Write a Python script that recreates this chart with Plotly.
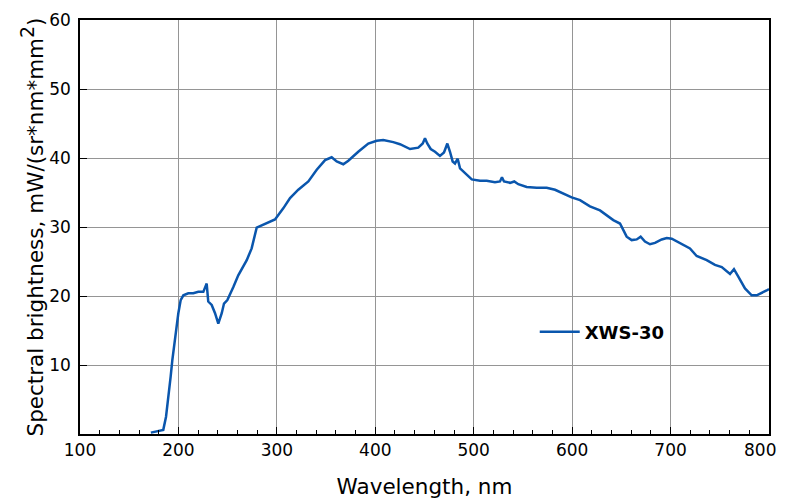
import plotly.graph_objects as go

wavelength = [172, 184.6, 187.4, 188.7, 190.7, 192.1, 193.8, 195.5, 197.5, 199.9, 202.3, 205, 210, 215.1, 220.2, 225.3,
              228.7, 230.3, 233.8, 237.2, 240.5, 244, 246.3, 249.7, 255.8, 260.8, 269.4, 274.4, 279.5, 289.7, 298.1,
              306.5, 313.4, 321.8, 332, 340.5, 349, 355.7, 360.8, 367.5, 372.6, 382.7, 392.9, 401.4, 408.1, 418.3,
              425.1, 435.3, 443.7, 448.2, 450.5, 452.8, 456.3, 460.7, 465.7, 469.8, 473.2, 475.9, 478.6, 481, 483.7,
              486.1, 491.1, 498, 506.4, 513.2, 521.6, 526.7, 528.7, 530.8, 536.9, 541.2, 545.3, 553.8, 564, 574.1,
              582.6, 591, 599.5, 608, 618.1, 628.3, 635.1, 641.8, 648.6, 651.3, 655.4, 660.5, 665.6, 669.6, 674,
              679.1, 684.2, 691, 696.1, 701.2, 709.6, 716.4, 719.7, 726.5, 736.7, 745.1, 752, 760.4, 764.4, 768.8,
              775.6, 782.4, 787.5, 797.6, 800]
brightness = [0.2, 0.6, 2.5, 4.0, 5.9, 8.3, 10.7, 12.7, 14.8, 17.5, 19.4, 20.1, 20.4, 20.4, 20.6, 20.6,
              21.8, 19.2, 18.7, 17.5, 16.0, 17.5, 18.9, 19.4, 21.3, 23.0, 25.2, 26.9, 29.9, 30.5, 31.1,
              32.7, 34.2, 35.4, 36.6, 38.3, 39.7, 40.1, 39.5, 39.1, 39.6, 40.9, 42.1, 42.5, 42.6, 42.3,
              42.0, 41.3, 41.5, 42.1, 42.85, 42.1, 41.3, 40.9, 40.3, 40.8, 42.1, 40.9, 39.5, 39.2, 39.9,
              38.5, 37.8, 36.9, 36.7, 36.7, 36.5, 36.6, 37.2, 36.6, 36.4, 36.6, 36.2, 35.8, 35.7, 35.7,
              35.4, 34.8, 34.3, 33.9, 33.0, 32.4, 31.7, 31.0, 30.5, 29.8, 28.6, 28.1, 28.2, 28.6, 27.9,
              27.5, 27.7, 28.2, 28.4, 28.3, 27.7, 27.1, 26.9, 25.8, 25.2, 24.5, 24.2, 23.2, 23.9, 22.8,
              21.1, 20.1, 20.1, 20.8, 21.0]
series_name = "XWS-30"
x_ticks = [100, 200, 300, 400, 500, 600, 700, 800]
x_tick_labels = ["100", "200", "300", "400", "500", "600", "700", "800"]
y_ticks = [10, 20, 30, 40, 50, 60]

font = "DejaVu Sans, Verdana, sans-serif"

fig = go.Figure()
fig.add_trace(go.Scatter(x=wavelength, y=brightness, mode="lines", name="<b>" + series_name + "</b>",
                         line=dict(color="#0a56ad", width=2.5)))

# the page adds an 8px body margin, so the figure is sized/offset to compensate
fig.update_layout(
    width=777, height=491,
    margin=dict(l=72, r=16, t=12, b=65, autoexpand=False),
    paper_bgcolor="white", plot_bgcolor="white",
    font=dict(family=font, size=17, color="black"),
    showlegend=True,
    legend=dict(x=0.66, y=0.246, xanchor="left", yanchor="middle",
                bgcolor="rgba(0,0,0,0)", font=dict(family=font, size=18, color="black"),
                itemwidth=40),
)
# last tick label sits at the page edge; place it right-anchored so it is not clipped
fig.add_annotation(x=x_ticks[-1], xref="x", y=0, yref="paper", text=x_tick_labels[-1],
                   showarrow=False, xanchor="right", yanchor="middle", xshift=9, yshift=-16,
                   font=dict(family=font, size=17, color="black"))
fig.update_xaxes(
    range=[100, 800], tickvals=x_ticks, ticktext=x_tick_labels[:-1] + [""],
    showgrid=True, gridcolor="#959595", gridwidth=1,
    showline=True, linecolor="black", linewidth=1.5, mirror=True,
    ticks="inside", ticklen=7, tickcolor="black",
    minor=dict(dtick=20, ticks="inside", ticklen=4, tickcolor="black", showgrid=False),
    title=dict(text="Wavelength, nm", font=dict(size=21.5), standoff=20),
    zeroline=False, automargin=False,
)
fig.update_yaxes(
    range=[0, 60], tickvals=y_ticks, showgrid=True, gridcolor="#959595", gridwidth=1,
    showline=True, linecolor="black", linewidth=1.5, mirror=True,
    ticks="inside", ticklen=7, tickcolor="black", ticklabelstandoff=4,
    title=dict(text="Spectral brightness, mW/(sr*nm*mm<sup><span style='font-size:19px'>2</span></sup>)",
               font=dict(size=21.5), standoff=0),
    zeroline=False, automargin=False,
)

fig.write_html("out.html")
